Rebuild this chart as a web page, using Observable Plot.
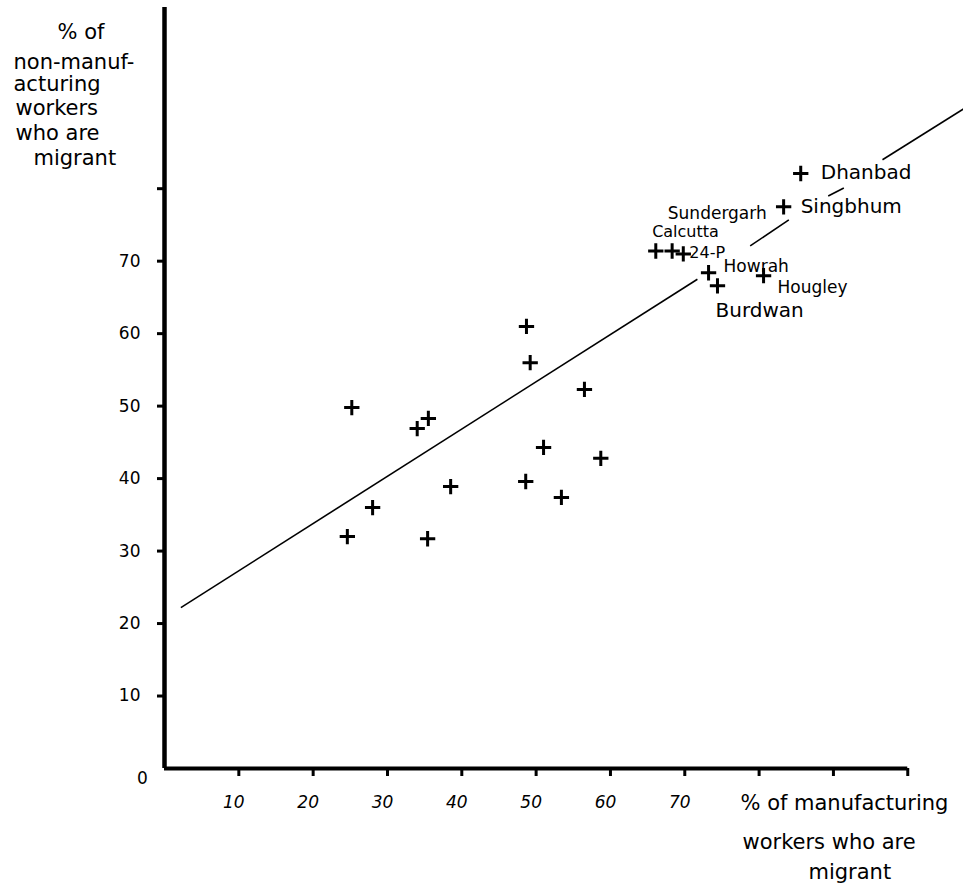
<!DOCTYPE html>
<html>
<head>
<meta charset="utf-8">
<script src="https://cdn.jsdelivr.net/npm/d3@7"></script>
<script src="https://cdn.jsdelivr.net/npm/@observablehq/plot@0.6"></script>
<style>
  html, body { margin: 0; padding: 0; background: #fff; }
  #chart svg { display: block; }
</style>
</head>
<body>
<div id="chart"></div>
<script>
// ---- data ----
// unlabelled districts
const plainX = [48.7, 49.2, 25.2, 35.5, 34.0, 51.0, 38.5, 48.6, 28.0, 24.6, 35.4, 56.5, 58.7, 53.4];
const plainY = [61.0, 56.0, 49.8, 48.3, 46.9, 44.3, 38.9, 39.6, 36.0, 32.0, 31.7, 52.3, 42.8, 37.4];
// labelled districts
const districts = ["Dhanbad", "Singbhum", "Sundergarh", "Calcutta", "24-P", "Howrah", "Burdwan", "Hougley"];
const districtX = [85.6, 83.3, 66.1, 68.3, 69.8, 73.2, 74.4, 80.6];
const districtY = [82.1, 77.5, 71.4, 71.4, 71.0, 68.4, 66.6, 68.0];
// fitted line, drawn in pieces (broken around the labels)
const fitX1 = [2.2, 78.8, 89.3, 96.6];
const fitY1 = [22.2, 72.1, 79.0, 84.0];
const fitX2 = [71.7, 84.0, 91.4, 107.5];
const fitY2 = [67.5, 75.7, 80.1, 91.0];
// ticks
const xTicks = [10, 20, 30, 40, 50, 60, 70, 80, 90, 100];
const xTickLabels = ["10", "20", "30", "40", "50", "60", "70", "", "", ""];
const yTicks = [10, 20, 30, 40, 50, 60, 70, 80];
const yTickLabels = ["10", "20", "30", "40", "50", "60", "70", ""];
const originLabel = "0";
// titles
const yTitleLines = ["% of", "non-manuf-", "acturing", "workers", "who are", "migrant"];
const xTitleLines = ["% of manufacturing", "workers who are", "migrant"];

// ---- styling / layout (not data) ----
const FONT = "DejaVu Sans, sans-serif";
const labelStyle = {
  "Dhanbad":    {dx: 20, dy: -1, size: 20},
  "Singbhum":   {dx: 17, dy: 0, size: 20},
  "Sundergarh": {dx: 12, dy: -37, size: 17},
  "Calcutta":   {dx: -20, dy: -19, size: 16},
  "24-P":       {dx: 6, dy: -1, size: 16},
  "Howrah":     {dx: 15, dy: -6, size: 17},
  "Burdwan":    {dx: -2, dy: 25, size: 20},
  "Hougley":    {dx: 14, dy: 12, size: 17}
};
const mL = 164, mT = 7;
const yTitlePos = [[57, 32], [13, 62], [13, 84], [15, 108], [15, 133], [33, 158]];
const xTitlePos = [[740, 803], [742, 842], [808, 872]];

const plain = plainX.map((x, i) => ({x, y: plainY[i]}));
const labelled = districts.map((name, i) => ({name, x: districtX[i], y: districtY[i]}));
const fit = fitX1.map((x1, i) => ({x1, y1: fitY1[i], x2: fitX2[i], y2: fitY2[i]}));

const marks = [
  // axis lines
  Plot.ruleX([0], {y1: 0, y2: 105, stroke: "black", strokeWidth: 4.5}),
  Plot.ruleY([0], {x1: 0, x2: 100, stroke: "black", strokeWidth: 4}),
  // ticks
  Plot.axisX({ticks: xTicks, tickSize: 8, strokeWidth: 3, tickFormat: () => ""}),
  Plot.axisY({ticks: yTicks, tickSize: 7, strokeWidth: 3, tickFormat: () => ""}),
  // tick labels
  Plot.axisX({ticks: xTicks, tickSize: 0, tickPadding: 27, dx: -5,
    tickFormat: d => xTickLabels[xTicks.indexOf(d)],
    fontSize: 17, fontStyle: "italic", fontFamily: FONT, fill: "black"}),
  Plot.axisY({ticks: yTicks, tickSize: 0, tickPadding: 24,
    tickFormat: d => yTickLabels[yTicks.indexOf(d)],
    fontSize: 17, fontFamily: FONT, fill: "black"}),
  Plot.text([originLabel], {x: 0, y: 0, text: d => d, dx: -22, dy: 10,
    fontSize: 17, fontFamily: FONT, fill: "black"}),
  // fitted line
  Plot.link(fit, {x1: "x1", y1: "y1", x2: "x2", y2: "y2", stroke: "black", strokeWidth: 1.6}),
  // points
  Plot.dot(plain, {x: "x", y: "y", symbol: "plus", r: 5, stroke: "black", strokeWidth: 3}),
  Plot.dot(labelled, {x: "x", y: "y", symbol: "plus", r: 5, stroke: "black", strokeWidth: 3}),
  // point labels
  ...labelled.map(d => Plot.text([d], {
    x: "x", y: "y", text: "name", textAnchor: "start",
    dx: labelStyle[d.name].dx, dy: labelStyle[d.name].dy,
    fontSize: labelStyle[d.name].size, fontFamily: FONT, fill: "black"
  })),
  // y-axis title (top-left margin)
  ...yTitleLines.map((t, i) => Plot.text([t], {
    text: d => d, frameAnchor: "top-left", textAnchor: "start", lineAnchor: "middle",
    dx: yTitlePos[i][0] - mL, dy: yTitlePos[i][1] - mT,
    fontSize: 21, fontFamily: FONT, fill: "black"
  })),
  // x-axis title (bottom-right)
  ...xTitleLines.map((t, i) => Plot.text([t], {
    text: d => d, frameAnchor: "top-left", textAnchor: "start", lineAnchor: "middle",
    dx: xTitlePos[i][0] - mL, dy: xTitlePos[i][1] - mT,
    fontSize: 21, fontFamily: FONT, fill: "black"
  }))
];

const chart = Plot.plot({
  width: 963,
  height: 888,
  marginLeft: mL,
  marginRight: 0,
  marginTop: mT,
  marginBottom: 120,
  style: {background: "white", color: "black", fontFamily: FONT, overflow: "visible"},
  x: {domain: [0, 107.5]},
  y: {domain: [0, 105]},
  marks
});
document.getElementById("chart").appendChild(chart);
</script>
</body>
</html>
